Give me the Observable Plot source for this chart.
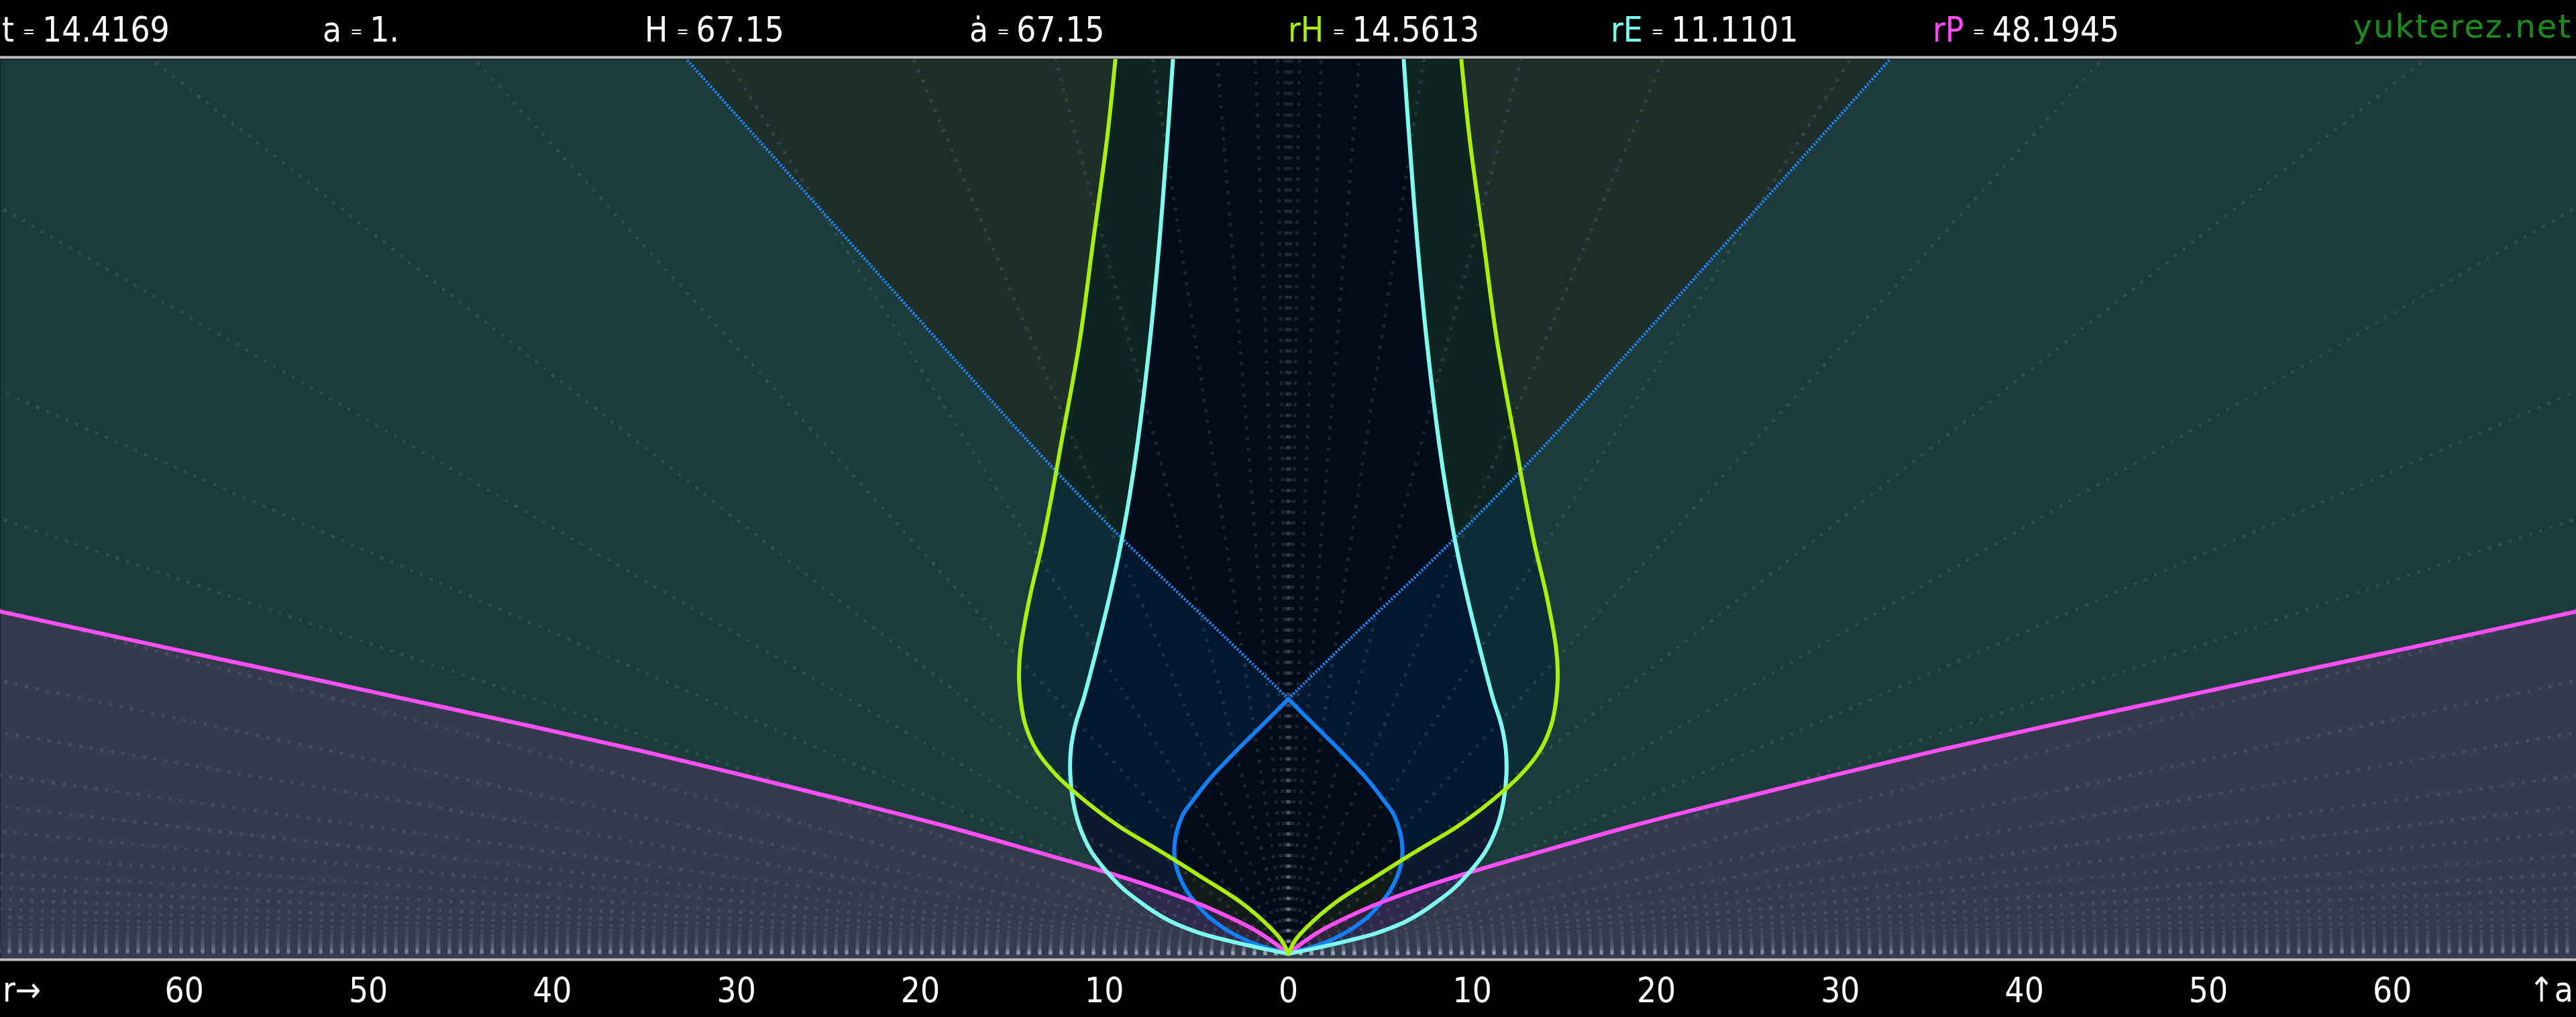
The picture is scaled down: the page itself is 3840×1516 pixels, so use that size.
<!DOCTYPE html>
<html>
<head>
<meta charset="utf-8">
<script src="https://cdn.jsdelivr.net/npm/d3@7"></script>
<script src="https://cdn.jsdelivr.net/npm/@observablehq/plot@0.6"></script>
<style>
  html, body { margin: 0; padding: 0; background: #000; }
  #wrap { position: relative; width: 3840px; height: 1516px; background: #000; overflow: hidden; }
  .hdr { position: absolute; top: 19px; height: 60px; line-height: 51px; font-size: 51px; white-space: nowrap; color: #fff; z-index: 5; }
  .hdr .eq { font-size: 24px; position: relative; top: -7px; margin: 0 11px 0 13px; color: #fff; }
  .foot { position: absolute; top: 1450px; line-height: 51px; font-size: 51px; color: #fff; white-space: nowrap; z-index: 5; }
</style>
</head>
<body>
<div id="wrap"></div>
<script>
// ---------------- data ----------------
const headerNames  = ["t", "a", "H", "ȧ", "rH", "rE", "rP"];
const headerValues = ["14.4169", "1.", "67.15", "67.15", "14.5613", "11.1101", "48.1945"];
const siteName = "yukterez.net";
const xTicks = [-60, -50, -40, -30, -20, -10, 0, 10, 20, 30, 40, 50, 60];

// Hubble sphere (green): scale factor a vs proper distance r
const hubbleA = [0, 0.05, 0.1, 0.2, 0.3, 0.4, 0.5, 0.6, 0.7, 0.8, 0.9, 1.0, 1.1, 1.2, 1.4, 1.6, 1.8, 2.0, 2.4, 2.8, 3.2, 3.51];
const hubbleR = [0, 0.35, 0.95, 2.55, 4.7, 6.9, 9.2, 11.05, 12.6, 13.7, 14.3, 14.56, 14.64, 14.55, 14.05, 13.4, 12.85, 12.35, 11.35, 10.6, 9.85, 9.4];

// Event horizon (cyan)
const eventA = [0, 0.01, 0.025, 0.05, 0.08, 0.12, 0.16, 0.2, 0.25, 0.3, 0.4, 0.5, 0.6, 0.7, 0.8, 0.9, 1.0, 1.2, 1.4, 1.6, 1.8, 2.0, 2.4, 2.8, 3.2, 3.51];
const eventR = [0, 0.7, 1.7, 3.2, 4.75, 6.2, 7.2, 8.0, 8.9, 9.6, 10.7, 11.35, 11.7, 11.85, 11.82, 11.57, 11.13, 10.4, 9.72, 9.12, 8.62, 8.2, 7.53, 7.0, 6.57, 6.27];

// Past light cone (blue, solid)
const pastConeA = [0, 0.02, 0.05, 0.1, 0.15, 0.2, 0.25, 0.3, 0.35, 0.4, 0.45, 0.5, 0.55, 0.6, 0.65, 0.7, 0.75, 0.8, 0.85, 0.9, 0.95, 1.0];
const pastConeR = [0, 1.0, 2.2, 3.5, 4.4, 5.05, 5.55, 5.9, 6.12, 6.2, 6.15, 5.98, 5.7, 5.2, 4.68, 4.1, 3.45, 2.78, 2.08, 1.38, 0.68, 0];

// Future light cone (blue, dotted)
const futureConeA = [1, 1.25, 1.5, 1.75, 2.0, 2.5, 3.0, 3.51];
const futureConeR = [0, 3.55, 7.2, 10.7, 14.0, 20.2, 26.4, 32.7];

// Particle horizon (magenta)
const particleA = [0, 0.05, 0.1, 0.15, 0.2, 0.25, 0.3, 0.35, 0.4, 0.5, 0.6, 0.7, 0.8, 0.9, 1.0, 1.1, 1.2, 1.343];
const particleR = [0, 0.9, 2.0, 3.4, 5.0, 6.9, 9.0, 11.3, 13.7, 18.6, 24.0, 29.6, 35.4, 41.6, 48.0, 54.4, 60.9, 70];

// comoving distances of the dotted galaxy worldlines (r = chi * a)
const galaxyChi = [0, 0.05, 0.17, 0.51, 1.1, 2.1, 3.6, 5.8, 8.7, 12.6, 17.6, 23.9, 31.7, 41, 51.8, 65.4, 80.6, 100, 121, 146, 181, 222, 270, 330, 400, 490, 600, 730, 890, 1090, 1330, 1620, 1980, 2420, 2950, 3600, 4400, 5400, 6600, 8000, 9800, 12000];

// ---------------- layout / style ----------------
const W = 3840, H = 1516, mT = 88, mB = 88;
const X0 = -70, X1 = 70, yMin = -0.018, yMax = 3.51;
const px = r => (r - X0) / (X1 - X0) * W;
const py = a => (H - mB) - (a - yMin) / (yMax - yMin) * (H - mB - mT);
const ix = x => X0 + x / W * (X1 - X0);
const iy = y => yMin + ((H - mB) - y) / (H - mB - mT) * (yMax - yMin);

const cGreen = "#aaee00", cCyan = "#7ffff0", cBlue = "#1080ff", cBlueDot = "#1a8cff", cMag = "#ff50f8";

function hasFont(name) {
  const c = document.createElement("canvas").getContext("2d");
  c.font = "51px monospace"; const m1 = c.measureText("0123456789abcdefg").width;
  c.font = `51px "${name}", monospace`; const m2 = c.measureText("0123456789abcdefg").width;
  return Math.abs(m1 - m2) > 0.5;
}
const condensed = hasFont("DejaVu Sans Condensed");
const fam = condensed ? "'DejaVu Sans Condensed'" : "'DejaVu Sans'";
const squeeze = condensed ? 1 : 0.9;

// dense sampling of the drawn (catmull-rom) curves, for region membership of the fill raster
const hidden = document.createElementNS("http://www.w3.org/2000/svg", "svg");
hidden.setAttribute("width", 10); hidden.setAttribute("height", 10);
hidden.style.position = "absolute"; hidden.style.left = "-9999px";
document.body.appendChild(hidden);
function densify(A, R) {
  const pts = A.map((a, i) => [px(R[i]), py(a)]);
  const el = document.createElementNS("http://www.w3.org/2000/svg", "path");
  el.setAttribute("d", d3.line().curve(d3.curveCatmullRom)(pts));
  hidden.appendChild(el);
  const L = el.getTotalLength();
  const aa = [], rr = [];
  for (let s = 0; s <= L; s += 0.7) {
    const p = el.getPointAtLength(s);
    const a = iy(p.y), r = ix(p.x);
    if (aa.length && a <= aa[aa.length - 1]) continue;
    aa.push(a); rr.push(r);
  }
  const a0 = A[0], a1 = A[A.length - 1];
  return a => {
    if (!(a >= a0 && a <= a1)) return NaN;
    let i = d3.bisectRight(aa, a);
    if (i <= 0) return rr[0];
    if (i >= aa.length) return rr[rr.length - 1];
    const t = (a - aa[i - 1]) / (aa[i] - aa[i - 1]);
    return rr[i - 1] + t * (rr[i] - rr[i - 1]);
  };
}
const fH = densify(hubbleA, hubbleR);
const fE = densify(eventA, eventR);
const fL = densify(pastConeA, pastConeR);
const fF = densify(futureConeA, futureConeR);
const fP = densify(particleA, particleR);

const regionKeys   = ["none", "F", "H", "HF", "EHF", "EH", "E", "EHL", "EL", "ELP", "EP", "P"];
const regionColors = ["#1d3a3c", "#1e2e2b", "#0b2e36", "#0e2420", "#010c18", "#03172f", "#0e1a30", "#010c18", "#121a1a", "#2b2438", "#2d2a4e", "#333b4d"];

let lastY = null, row = null;
function regionKey(x, y) {
  if (y !== lastY) { lastY = y; row = {h: fH(y), e: fE(y), l: fL(y), f: fF(y), p: fP(y)}; }
  if (y <= 0) return "P";
  const r = Math.abs(x);
  const P = r > row.p, Hh = r < row.h, E = r < row.e, L = r < row.l, F = r < row.f;
  if (P) return E ? (L ? "ELP" : "EP") : "P";
  if (E) {
    if (Hh) return L ? "EHL" : (F ? "EHF" : "EH");
    return L ? "EL" : (F ? "EHF" : "E");
  }
  if (Hh) return F ? "HF" : "H";
  return F ? "F" : "none";
}

function branchRows(A, R) {
  const rows = [];
  for (const s of [-1, 1]) A.forEach((a, i) => rows.push({x: s * R[i], y: a, side: s}));
  return rows;
}

const galaxyRows = [];
for (const chi of galaxyChi) {
  const endA = chi === 0 ? 4 : Math.min(4, 75 / chi);
  for (const s of (chi === 0 ? [1] : [-1, 1])) galaxyRows.push({x2: s * chi * endA, y2: endA});
}

const lineOpts = {x: "x", y: "y", z: "side", strokeWidth: 6, curve: "catmull-rom", strokeLinejoin: "round", strokeLinecap: "round"};

const plot = Plot.plot({
  width: W, height: H,
  marginTop: mT, marginBottom: mB, marginLeft: 0, marginRight: 0,
  x: {domain: [X0, X1], axis: null},
  y: {domain: [yMin, yMax], axis: null},
  color: {type: "ordinal", domain: regionKeys, range: regionColors},
  style: {background: "#000", fontFamily: fam},
  marks: [
    Plot.raster({x1: X0, x2: X1, y1: yMin, y2: yMax, width: 1920, height: 670, fill: regionKey}),
    Plot.link(galaxyRows, {x1: () => 0, y1: () => 0, x2: "x2", y2: "y2", stroke: "#9aa8bb", strokeOpacity: 0.16, strokeWidth: 5, strokeDasharray: "5,11", strokeLinecap: "butt", clip: true}),
    Plot.line(branchRows(futureConeA, futureConeR), {...lineOpts, stroke: cBlueDot, strokeWidth: 4.5, strokeDasharray: "2.6,2.6", strokeLinecap: "butt", clip: true}),
    Plot.line(branchRows(pastConeA, pastConeR), {...lineOpts, stroke: cBlue}),
    Plot.line(branchRows(particleA, particleR), {...lineOpts, stroke: cMag, clip: true}),
    Plot.line(branchRows(eventA, eventR), {...lineOpts, stroke: cCyan, clip: true}),
    Plot.line(branchRows(hubbleA, hubbleR), {...lineOpts, stroke: cGreen, clip: true}),
    Plot.ruleY([yMax], {stroke: "#c0c0c0", strokeWidth: 4, dy: -3}),
    Plot.ruleY([yMin], {stroke: "#c0c0c0", strokeWidth: 4, dy: 2}),
    Plot.axisX(xTicks, {anchor: "bottom", tickSize: 0, tickPadding: 29, tickFormat: d => String(Math.abs(d)), fontSize: 51, color: "#ffffff", fontFamily: fam})
  ]
});
plot.style.position = "absolute"; plot.style.left = "0"; plot.style.top = "0";
const wrap = document.getElementById("wrap");
wrap.appendChild(plot);

if (squeeze !== 1) {
  plot.querySelectorAll('g[aria-label="x-axis tick label"] text').forEach(t => {
    const tr = t.getAttribute("transform") || "";
    const x = +(t.getAttribute("x") || 0), y = +(t.getAttribute("y") || 0);
    t.setAttribute("transform", `${tr} translate(${x},${y}) scale(${squeeze},1) translate(${-x},${-y})`);
  });
}

// header
const headerLefts = [3, 481, 961, 1445, 1920, 2401, 2881];
const headerColors = ["#ffffff", "#ffffff", "#ffffff", "#ffffff", cGreen, cCyan, cMag];
headerNames.forEach((n, i) => {
  const d = document.createElement("div");
  d.className = "hdr";
  d.style.left = headerLefts[i] + "px";
  d.style.fontFamily = fam;
  d.style.transformOrigin = "left center";
  d.style.transform = `scaleX(${squeeze})`;
  const s1 = document.createElement("span"); s1.textContent = n; s1.style.color = headerColors[i];
  const s2 = document.createElement("span"); s2.className = "eq"; s2.textContent = "=";
  const s3 = document.createElement("span"); s3.textContent = headerValues[i];
  d.append(s1, s2, s3);
  wrap.appendChild(d);
});
const site = document.createElement("div");
site.className = "hdr";
site.style.left = "auto"; site.style.right = "6px";
site.style.fontFamily = "'DejaVu Sans'";
site.style.fontSize = "48px";
site.style.letterSpacing = "2px";
site.style.top = "14px";
site.style.color = "#1c8c1c";
site.textContent = siteName;
wrap.appendChild(site);

// footer axis names
const fl = document.createElement("div");
fl.className = "foot"; fl.style.left = "4px"; fl.style.fontFamily = fam;
fl.style.transformOrigin = "left center"; fl.style.transform = `scaleX(${squeeze})`;
fl.textContent = "r→";
wrap.appendChild(fl);
const fr = document.createElement("div");
fr.className = "foot"; fr.style.right = "4px"; fr.style.fontFamily = fam;
fr.style.transformOrigin = "right center"; fr.style.transform = `scaleX(${squeeze})`;
fr.textContent = "↑a";
wrap.appendChild(fr);
</script>
</body>
</html>
